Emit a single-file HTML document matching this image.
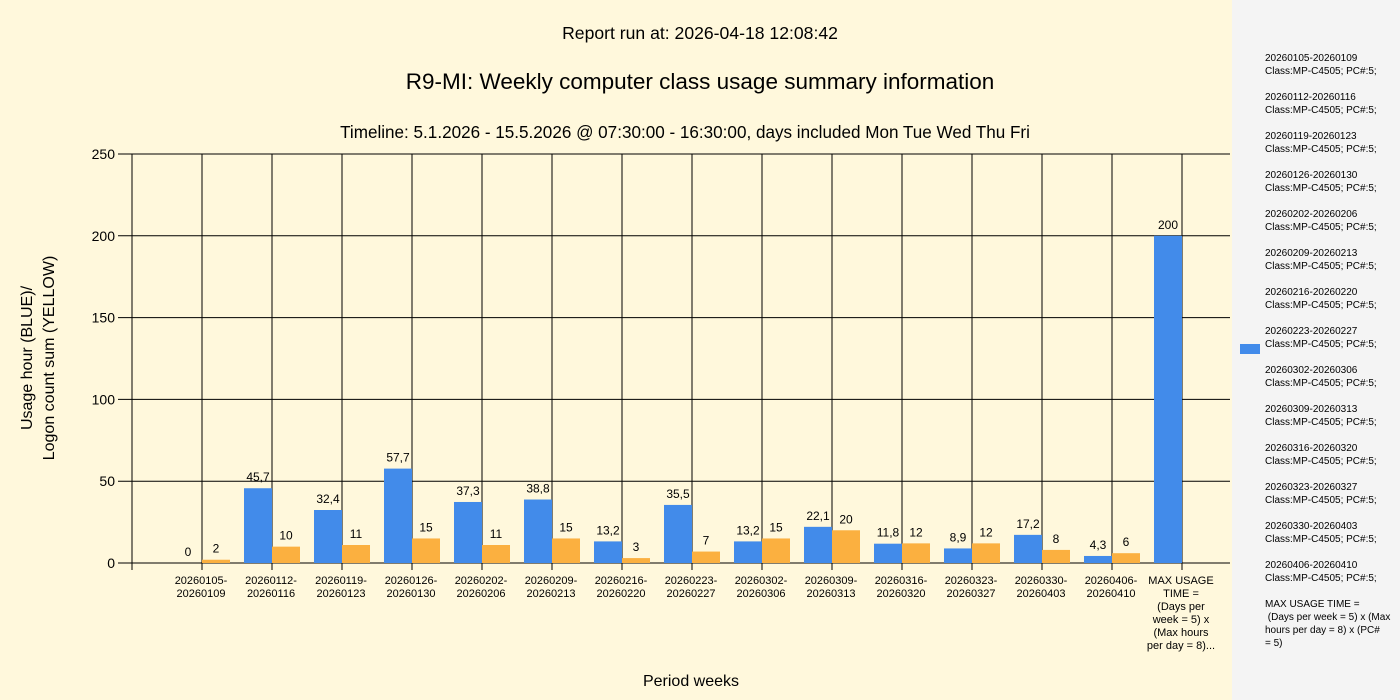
<!DOCTYPE html>
<html><head><meta charset="utf-8"><style>
body{margin:0;width:1400px;height:700px;overflow:hidden;background:#fff8dc;font-family:"Liberation Sans",sans-serif}
svg{display:block}
</style></head><body>
<svg id="c" width="1400" height="700" xmlns="http://www.w3.org/2000/svg" font-family="Liberation Sans, sans-serif">
<rect x="0" y="0" width="1232" height="700" fill="#fff8dc"/>
<rect x="1232" y="0" width="168" height="700" fill="#f4f4f4"/>
<text x="700" y="39" font-size="17.6" text-anchor="middle">Report run at: 2026-04-18 12:08:42</text>
<text x="700" y="89" font-size="22.5" text-anchor="middle">R9-MI: Weekly computer class usage summary information</text>
<text x="685" y="138" font-size="17.1" text-anchor="middle">Timeline:  5.1.2026  - 15.5.2026  @  07:30:00 -  16:30:00, days included Mon Tue Wed Thu Fri</text>
<text transform="translate(32,358) rotate(-90)" font-size="16" text-anchor="middle"><tspan x="0" dy="0">Usage hour (BLUE)/</tspan><tspan x="0" dy="22">Logon count sum (YELLOW)</tspan></text>
<text x="691" y="686" font-size="16" text-anchor="middle">Period weeks</text>
<g id="grid"></g><g id="bars"></g><g id="labels"></g><g id="legend"></g>
</svg>
<script>
const categories=["20260105-|20260109","20260112-|20260116","20260119-|20260123","20260126-|20260130","20260202-|20260206","20260209-|20260213","20260216-|20260220","20260223-|20260227","20260302-|20260306","20260309-|20260313","20260316-|20260320","20260323-|20260327","20260330-|20260403","20260406-|20260410","MAX USAGE|TIME =|(Days per|week = 5) x|(Max hours|per day = 8)..."];
const usageHours=[0,45.7,32.4,57.7,37.3,38.8,13.2,35.5,13.2,22.1,11.8,8.9,17.2,4.3,200];
const usageLabels=["0","45,7","32,4","57,7","37,3","38,8","13,2","35,5","13,2","22,1","11,8","8,9","17,2","4,3","200"];
const logonCounts=[2,10,11,15,11,15,3,7,15,20,12,12,8,6,null];
const yTicks=[0,50,100,150,200,250];
const legendItems=["20260105-20260109","20260112-20260116","20260119-20260123","20260126-20260130","20260202-20260206","20260209-20260213","20260216-20260220","20260223-20260227","20260302-20260306","20260309-20260313","20260316-20260320","20260323-20260327","20260330-20260403","20260406-20260410"];
const NS="http://www.w3.org/2000/svg";
const y=v=>563-v*409/250;
const cx=i=>202+70*i;
function mk(t,a,p,txt){const e=document.createElementNS(NS,t);for(const k in a)e.setAttribute(k,a[k]);if(txt!=null)e.textContent=txt;p.appendChild(e);return e;}
const g=document.getElementById('grid'),b=document.getElementById('bars'),l=document.getElementById('labels'),lg=document.getElementById('legend');
yTicks.forEach(t=>{
 const ln=mk('line',{x1:118,x2:1230,y1:y(t),y2:y(t),stroke:'#000','stroke-width':1},g);
 
 
 const tx=mk('text',{x:115,y:y(t)+5,'font-size':14,'text-anchor':'end'},g,String(t));
 
 
});
mk('line',{x1:132,x2:132,y1:154,y2:570,stroke:'#000'},g);
categories.forEach((c,i)=>{
 const ln=mk('line',{x1:cx(i),x2:cx(i),y1:154,y2:570,stroke:'#000'},g);
 
 
 const t=mk('text',{x:cx(i)-1,y:584,'font-size':11,'text-anchor':'middle'},l);
 
 
 c.split('|').forEach((s,j)=>mk('tspan',{x:cx(i)-1,dy:j?13:0},t,s));
});
usageHours.forEach((v,i)=>{
 const r=mk('rect',{x:cx(i)-28,y:y(v),width:28,height:563-y(v),fill:'#428bea'},b);
 
 
 const t=mk('text',{x:cx(i)-14,y:y(v)-7,'font-size':12,'text-anchor':'middle'},l,usageLabels[i]);
 
 
});
logonCounts.forEach((v,i)=>{
 if(v==null)return;
 const r=mk('rect',{x:cx(i),y:y(v),width:28,height:563-y(v),fill:'#fbb040'},b);
 
 
 const t=mk('text',{x:cx(i)+14,y:y(v)-7,'font-size':12,'text-anchor':'middle'},l,String(v));
 
 
});
legendItems.forEach((s,i)=>{
 const t=mk('text',{x:1265,y:61+39*i,'font-size':10},lg);
 
 
 mk('tspan',{x:1265,dy:0},t,s);
 mk('tspan',{x:1265,dy:13},t,'Class:MP-C4505; PC#:5;');
});
const m=mk('text',{x:1265,y:607,'font-size':10},lg);


["MAX USAGE TIME ="," (Days per week = 5) x (Max","hours per day = 8) x (PC#","= 5)"].forEach((s,j)=>mk('tspan',{x:1265,dy:j?13:0},m,s));
const sw=mk('rect',{x:1240,y:344,width:20,height:10,fill:'#428bea'},lg);


</script>
</body></html>
